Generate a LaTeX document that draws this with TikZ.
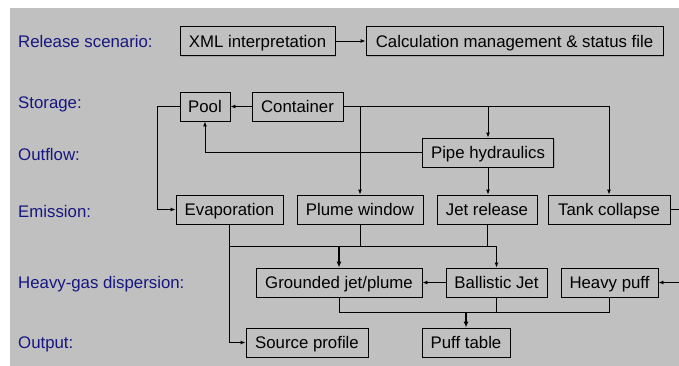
\documentclass[tikz,border=0pt]{standalone}
\usepackage{fontspec}
\setmainfont{Liberation Sans}
\usetikzlibrary{arrows.meta, shadows}
\definecolor{panelgray}{RGB}{192,192,192}
\definecolor{rowblue}{RGB}{22,22,128}
\tikzset{
    box/.style={draw, line width=0.9pt, fill=panelgray, minimum height=29pt, inner sep=0pt,
        text height=12pt, text depth=0pt, font=\fontsize{16.8}{20}\selectfont,
        drop shadow={shadow xshift=1.2pt, shadow yshift=-1.2pt, fill=black!45}},
    rowlabel/.style={anchor=base west, inner sep=0pt, text=rowblue, font=\fontsize{16.8}{20}\selectfont},
    arr/.style={line width=0.9pt, -{Latex[length=5pt, width=4pt]}},
    arrbold/.style={line width=1.6pt, -{Latex[length=6pt, width=5pt]}},
    bus/.style={line width=0.9pt}
}
\begin{document}
\begin{tikzpicture}[x=1pt, y=-1pt]
        \useasboundingbox (0,0) rectangle (679,365);
        \fill [panelgray] (10,8) rectangle (690,375);
        % row labels
        \node [rowlabel] (lrelease) at (18,47) {Release scenario:};
        \node [rowlabel] (lstorage) at (18,108) {Storage:};
        \node [rowlabel] (loutflow) at (18,160) {Outflow:};
        \node [rowlabel] (lemission) at (18,217) {Emission:};
        \node [rowlabel] (ldispersion) at (18,288) {Heavy-gas dispersion:};
        \node [rowlabel] (loutput) at (18,348) {Output:};
        % boxes
        \node [box, minimum width=155pt] (xml) at (257.5,41) {XML interpretation};
        \node [box, minimum width=297pt] (calc) at (514.5,41) {Calculation management \& status file};
        \node [box, minimum width=50pt] (pool) at (205,106.5) {Pool};
        \node [box, minimum width=91pt] (container) at (297.5,106.5) {Container};
        \node [box, minimum width=131pt] (pipe) at (488,152.5) {Pipe hydraulics};
        \node [box, minimum width=107pt] (evap) at (229.5,209.5) {Evaporation};
        \node [box, minimum width=126pt] (plume) at (360,209.5) {Plume window};
        \node [box, minimum width=100pt] (jet) at (487,209.5) {Jet release};
        \node [box, minimum width=122pt] (tank) at (609,209.5) {Tank collapse};
        \node [box, minimum width=166pt] (grounded) at (339,282.5) {Grounded jet/plume};
        \node [box, minimum width=101pt] (ballistic) at (496.5,282.5) {Ballistic Jet};
        \node [box, minimum width=97pt] (puff) at (609.5,282.5) {Heavy puff};
        \node [box, minimum width=122pt] (source) at (307,342.5) {Source profile};
        \node [box, minimum width=88pt] (table) at (466,342.5) {Puff table};
        % turning points and buses
        \coordinate (poolturn) at (157,106.5);
        \coordinate (tankturn) at (682,209.5);
        \coordinate (busemit) at (0,246);
        \coordinate (busout) at (0,312);
        % connectors
        \draw [arr] (xml) -- (calc);
        \draw [arr] (container) -- (pool);
        \draw [arr] (pool.west) -- (poolturn) |- (evap.west);
        \draw [arr] (pipe.west) -| (pool.south);
        \draw [arr] (container.east) -| (tank.north);
        \draw [arr] (container.east -| plume.north) -- (plume.north);
        \draw [arr] (container.east -| pipe.north) -- (pipe.north);
        \draw [arr] (pipe.south) -- (pipe.south |- jet.north);
        \draw [arr] (tank.east) -- (tankturn) |- (puff.east);
        \draw [arr] (evap.south) |- (source.west);
        \draw [bus] (evap.south |- busemit) -- (ballistic.north |- busemit);
        \draw [bus] (plume.south) -- (plume.south |- busemit);
        \draw [bus] (jet.south) -- (jet.south |- busemit);
        \draw [arrbold] (grounded.north |- busemit) -- (grounded.north);
        \draw [arr] (ballistic.north |- busemit) -- (ballistic.north);
        \draw [arr] (ballistic) -- (grounded);
        \draw [bus] (grounded.south) |- (puff.south |- busout) -- (puff.south);
        \draw [bus] (ballistic.south) -- (ballistic.south |- busout);
        \draw [arrbold] (table.north |- busout) -- (table.north);
    \end{tikzpicture}
\end{document}
